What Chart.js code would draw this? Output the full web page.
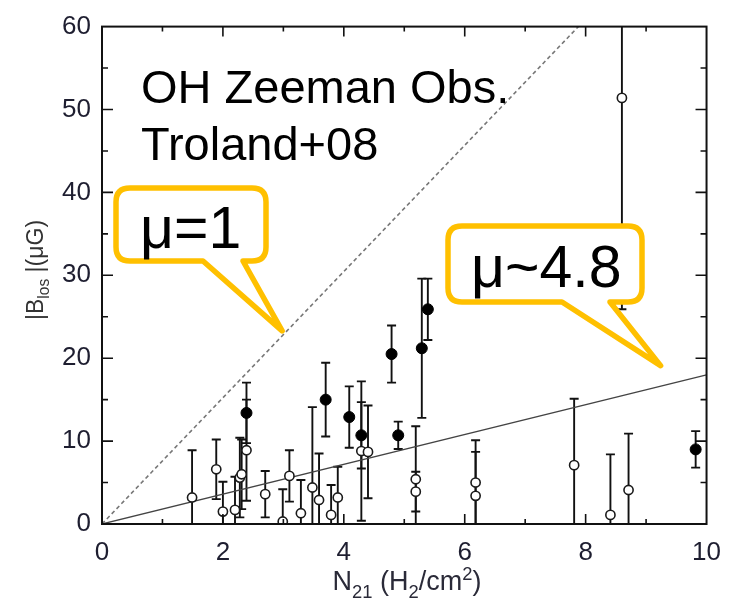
<!DOCTYPE html>
<html>
<head>
<meta charset="utf-8">
<script src="https://cdn.jsdelivr.net/npm/chart.js@4.4.1/dist/chart.umd.min.js"></script>
<style>
  html, body { margin: 0; padding: 0; background: #fff; }
  #wrap { width: 734px; height: 603px; }
</style>
</head>
<body>
<div id="wrap"><canvas id="chart" width="734" height="603"></canvas></div>
<script>
// column density N21 (1e21 H2/cm2) and |B_los| (uG) with 1-sigma errors
const openN = [1.49, 1.89, 2.00, 2.20, 2.28, 2.31, 2.39, 2.70, 2.99, 3.10, 3.29, 3.48, 3.59, 3.79, 3.90, 4.29, 4.40, 5.19, 5.19, 6.18, 6.18, 7.81, 8.41, 8.60, 8.71];
const openB = [3.2, 6.6, 1.5, 1.7, 5.6, 6.0, 8.9, 3.6, 0.3, 5.8, 1.3, 4.4, 2.9, 1.1, 3.2, 8.8, 8.7, 5.4, 3.9, 5.0, 3.4, 7.1, 1.1, 51.4, 4.1];
const openErr = [5.7, 3.6, 3.6, 4.0, 4.8, 4.2, 6.1, 2.8, 3.9, 3.1, 4.0, 9.7, 5.6, 3.6, 3.7, 8.4, 5.6, 6.4, 2.4, 5.1, 5.3, 8.0, 7.3, 25.5, 6.8];

const filledN = [2.39, 3.70, 4.09, 4.29, 4.79, 4.90, 5.29, 5.39, 9.82];
const filledB = [13.4, 15.0, 12.9, 10.7, 20.5, 10.7, 21.2, 25.9, 9.0];
const filledErr = [3.65, 4.45, 3.7, 4.0, 3.45, 1.65, 8.4, 3.7, 2.2];

// mu = 1 (dashed) and best fit mu ~ 4.8 (solid)
const muOneN = [0, 7.88];
const muOneB = [0, 60];
const muFitN = [0, 10];
const muFitB = [0, 18];

const xTicks = [0, 2, 4, 6, 8, 10];
const yTicks = [0, 10, 20, 30, 40, 50, 60];

const FONT = "'Liberation Sans', Arial, sans-serif";

function toPoints(xs, ys) {
    return xs.map((x, i) => ({ x: x, y: ys[i] }));
}

// draws text with sub/superscripts, centred on x
function drawRich(ctx, parts, x, y, size) {
    let total = 0;
    parts.forEach(p => {
        ctx.font = (p.sub || p.sup ? size * 0.68 : size) + "px " + FONT;
        total += ctx.measureText(p.t).width;
    });
    let cx = x - total / 2;
    ctx.textAlign = 'left';
    ctx.textBaseline = 'alphabetic';
    parts.forEach(p => {
        ctx.font = (p.sub || p.sup ? size * 0.68 : size) + "px " + FONT;
        let dy = p.sub ? size * 0.28 : (p.sup ? -size * 0.38 : 0);
        ctx.fillText(p.t, cx, y + dy);
        cx += ctx.measureText(p.t).width;
    });
}

function callout(ctx, box, tail, tip) {
    const r = 14;
    ctx.beginPath();
    ctx.moveTo(box.l + r, box.t);
    ctx.lineTo(box.r - r, box.t);
    ctx.quadraticCurveTo(box.r, box.t, box.r, box.t + r);
    ctx.lineTo(box.r, box.b - r);
    ctx.quadraticCurveTo(box.r, box.b, box.r - r, box.b);
    ctx.lineTo(tail[1], box.b);
    ctx.lineTo(tip.x, tip.y);
    ctx.lineTo(tail[0], box.b);
    ctx.lineTo(box.l + r, box.b);
    ctx.quadraticCurveTo(box.l, box.b, box.l, box.b - r);
    ctx.lineTo(box.l, box.t + r);
    ctx.quadraticCurveTo(box.l, box.t, box.l + r, box.t);
    ctx.closePath();
    ctx.fillStyle = '#fff';
    ctx.fill();
    ctx.lineJoin = 'round';
    ctx.lineWidth = 5.5;
    ctx.strokeStyle = '#FFC000';
    ctx.stroke();
}

const decorPlugin = {
    id: 'decor',
    beforeDatasetsDraw(chart) {
        const ctx = chart.ctx, xs = chart.scales.x, ys = chart.scales.y, a = chart.chartArea;
        ctx.save();
        ctx.beginPath();
        ctx.rect(a.left, a.top, a.right - a.left, a.bottom - a.top);
        ctx.clip();
        ctx.strokeStyle = '#111';
        ctx.lineWidth = 1.9;
        const bars = (ns, bs, es) => ns.forEach((n, i) => {
            const px = xs.getPixelForValue(n);
            const top = ys.getPixelForValue(bs[i] + es[i]);
            const bot = ys.getPixelForValue(bs[i] - es[i]);
            ctx.beginPath();
            ctx.moveTo(px, top); ctx.lineTo(px, bot);
            ctx.moveTo(px - 4.5, top); ctx.lineTo(px + 4.5, top);
            ctx.moveTo(px - 4.5, bot); ctx.lineTo(px + 4.5, bot);
            ctx.stroke();
        });
        bars(openN, openB, openErr);
        bars(filledN, filledB, filledErr);
        ctx.restore();
    },
    afterDraw(chart) {
        const ctx = chart.ctx, xs = chart.scales.x, ys = chart.scales.y, a = chart.chartArea;
        ctx.save();
        // frame with inward ticks on all four sides
        ctx.strokeStyle = '#111';
        ctx.lineWidth = 2;
        ctx.strokeRect(a.left, a.top, a.right - a.left, a.bottom - a.top);
        ctx.lineWidth = 1.6;
        for (let v = 1; v < 10; v++) {
            const px = xs.getPixelForValue(v);
            const len = v % 2 === 0 ? 10 : 5;
            ctx.beginPath();
            ctx.moveTo(px, a.bottom); ctx.lineTo(px, a.bottom - len);
            ctx.moveTo(px, a.top); ctx.lineTo(px, a.top + len);
            ctx.stroke();
        }
        for (let v = 5; v < 60; v += 5) {
            const py = ys.getPixelForValue(v);
            const len = v % 10 === 0 ? 11 : 6;
            ctx.beginPath();
            ctx.moveTo(a.left, py); ctx.lineTo(a.left + len, py);
            ctx.moveTo(a.right, py); ctx.lineTo(a.right - len, py);
            ctx.stroke();
        }

        // axis titles
        ctx.fillStyle = '#2a2a38';
        drawRich(ctx, [{ t: 'N' }, { t: '21', sub: true }, { t: ' (H' }, { t: '2', sub: true },
            { t: '/cm' }, { t: '2', sup: true }, { t: ')' }], 407, 590, 27);
        ctx.save();
        ctx.translate(43, 270);
        ctx.rotate(-Math.PI / 2);
        ctx.fillStyle = '#333';
        drawRich(ctx, [{ t: '|B' }, { t: 'los', sub: true }, { t: ' |(\u03bcG)' }], 0, 0, 23);
        ctx.restore();

        // annotations
        ctx.fillStyle = '#000';
        ctx.textAlign = 'left';
        ctx.textBaseline = 'alphabetic';
        ctx.font = "47px " + FONT;
        ctx.fillText('OH Zeeman Obs.', 141, 103);
        ctx.fillText('Troland+08', 141, 160);

        const tip1 = { x: xs.getPixelForValue(2.98), y: ys.getPixelForValue(23.3) };
        callout(ctx, { l: 116, t: 188, r: 266, b: 261 }, [203, 243], tip1);
        const tip2 = { x: xs.getPixelForValue(9.24), y: ys.getPixelForValue(19.1) };
        callout(ctx, { l: 448, t: 226, r: 642, b: 302 }, [562, 610], tip2);

        ctx.fillStyle = '#000';
        ctx.font = "59px " + FONT;
        ctx.fillText('\u03bc=1', 140, 248);
        ctx.fillText('\u03bc~4.8', 471, 287);
        ctx.restore();
    }
};

new Chart(document.getElementById('chart'), {
    type: 'scatter',
    data: {
        datasets: [
            {
                label: 'open',
                data: toPoints(openN, openB),
                pointRadius: 4.6,
                pointBackgroundColor: '#fff',
                pointBorderColor: '#1a1a1a',
                pointBorderWidth: 1.6,
                order: 2
            },
            {
                label: 'filled',
                data: toPoints(filledN, filledB),
                pointRadius: 5.5,
                pointBackgroundColor: '#000',
                pointBorderColor: '#000',
                pointBorderWidth: 1,
                order: 1
            },
            {
                type: 'line',
                label: 'mu=1',
                data: toPoints(muOneN, muOneB),
                borderColor: '#777',
                borderWidth: 1.6,
                borderDash: [4, 3],
                pointRadius: 0,
                order: 3
            },
            {
                type: 'line',
                label: 'fit',
                data: toPoints(muFitN, muFitB),
                borderColor: '#444',
                borderWidth: 1.3,
                pointRadius: 0,
                order: 3
            }
        ]
    },
    options: {
        responsive: false,
        animation: false,
        layout: { padding: { top: 17, right: 25, left: 0, bottom: 0 } },
        plugins: {
            legend: { display: false },
            tooltip: { enabled: false }
        },
        scales: {
            x: {
                type: 'linear',
                min: 0,
                max: 10,
                afterFit: s => { s.height = 79; },
                afterBuildTicks: s => { s.ticks = xTicks.map(v => ({ value: v })); },
                grid: { display: false, drawTicks: false },
                border: { display: false },
                ticks: { padding: 13, color: '#1e1e30', font: { family: FONT, size: 26 }, maxRotation: 0 }
            },
            y: {
                type: 'linear',
                min: 0,
                max: 60,
                afterFit: s => { s.width = 102; },
                afterBuildTicks: s => { s.ticks = yTicks.map(v => ({ value: v })); },
                grid: { display: false, drawTicks: false },
                border: { display: false },
                ticks: { padding: 11, color: '#1e1e30', font: { family: FONT, size: 26 } }
            }
        }
    },
    plugins: [decorPlugin]
});
</script>
</body>
</html>
